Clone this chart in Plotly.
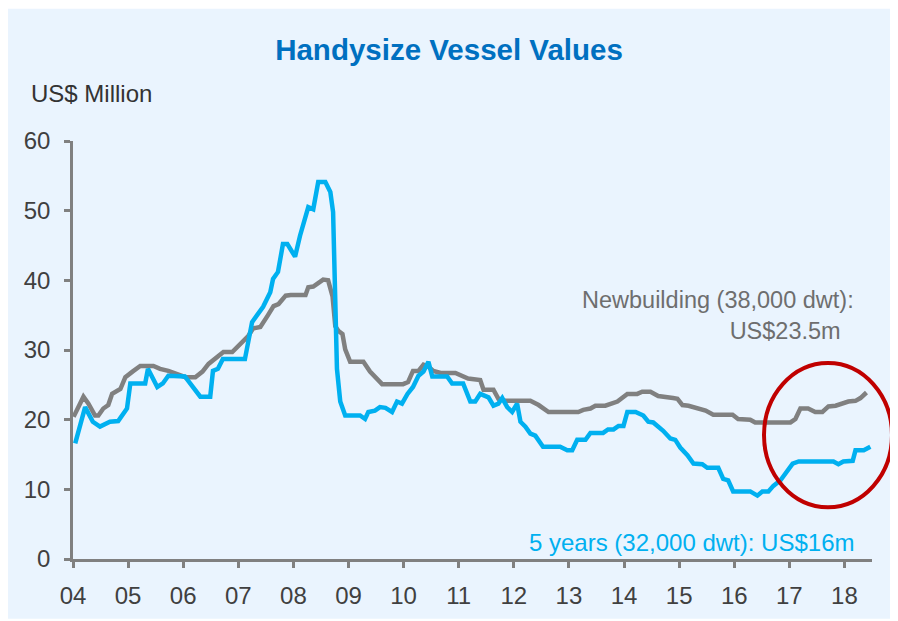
import plotly.graph_objects as go

# ---- data ----
title_text = "Handysize Vessel Values"
y_unit = "US$ Million"

year_ticks = list(range(2004, 2019))
year_labels = ["04", "05", "06", "07", "08", "09", "10", "11", "12", "13", "14", "15", "16", "17", "18"]

five_yr_t = [2004.04, 2004.22, 2004.36, 2004.49, 2004.67, 2004.82, 2004.98, 2005.04, 2005.31, 2005.36,
             2005.53, 2005.63, 2005.73, 2006.03, 2006.31, 2006.49, 2006.54, 2006.63, 2006.72, 2007.12,
             2007.25, 2007.45, 2007.58, 2007.63, 2007.72, 2007.81, 2007.89, 2008.03, 2008.12, 2008.27,
             2008.36, 2008.45, 2008.58, 2008.67, 2008.72, 2008.76, 2008.79, 2008.85, 2008.94, 2009.21,
             2009.30, 2009.36, 2009.48, 2009.57, 2009.67, 2009.79, 2009.88, 2009.97, 2010.07, 2010.17,
             2010.27, 2010.36, 2010.45, 2010.52, 2010.79, 2010.88, 2011.08, 2011.21, 2011.30, 2011.39,
             2011.54, 2011.63, 2011.72, 2011.79, 2011.88, 2011.97, 2012.06, 2012.12, 2012.21, 2012.30,
             2012.39, 2012.53, 2012.84, 2012.97, 2013.06, 2013.15, 2013.30, 2013.39, 2013.62, 2013.71,
             2013.81, 2013.90, 2013.99, 2014.06, 2014.21, 2014.35, 2014.44, 2014.53, 2014.71, 2014.84,
             2014.93, 2015.02, 2015.15, 2015.26, 2015.42, 2015.51, 2015.71, 2015.80, 2015.89, 2015.98,
             2016.29, 2016.42, 2016.51, 2016.62, 2016.71, 2016.84, 2016.93, 2017.06, 2017.17, 2017.80,
             2017.89, 2017.98, 2018.15, 2018.20, 2018.35, 2018.47]
five_yr_v = [16.6, 21.8, 19.7, 19.0, 19.7, 19.8, 21.6, 25.2, 25.2, 27.3,
             24.7, 25.2, 26.3, 26.2, 23.3, 23.3, 27.0, 27.3, 28.7, 28.7,
             34.0, 36.2, 38.3, 40.2, 41.2, 45.2, 45.2, 43.4, 46.4, 50.5,
             50.2, 54.1, 54.1, 52.7, 49.8, 37.0, 27.3, 22.6, 20.6, 20.6,
             20.1, 21.1, 21.3, 21.8, 21.7, 21.1, 22.6, 22.3, 23.7, 24.7,
             26.3, 26.9, 28.3, 26.2, 26.2, 25.2, 25.2, 22.6, 22.6, 23.7,
             23.2, 22.0, 22.3, 23.1, 21.8, 21.1, 22.3, 19.7, 19.0, 18.0,
             17.7, 16.1, 16.1, 15.6, 15.6, 17.1, 17.1, 18.1, 18.1, 18.6,
             18.6, 19.1, 19.1, 21.1, 21.1, 20.6, 19.7, 19.6, 18.4, 17.3,
             17.1, 16.0, 14.9, 13.7, 13.6, 13.1, 13.1, 11.5, 11.3, 9.7,
             9.7, 9.1, 9.7, 9.7, 10.5, 11.3, 12.3, 13.7, 14.0, 14.0,
             13.6, 14.0, 14.1, 15.6, 15.6, 16.1]

newb_t = [2004.01, 2004.19, 2004.28, 2004.40, 2004.46, 2004.55, 2004.64, 2004.71, 2004.86, 2004.95,
          2005.08, 2005.22, 2005.46, 2005.58, 2005.73, 2005.82, 2005.95, 2006.04, 2006.22, 2006.35,
          2006.46, 2006.62, 2006.73, 2006.89, 2007.00, 2007.07, 2007.18, 2007.27, 2007.40, 2007.53,
          2007.64, 2007.73, 2007.86, 2007.95, 2008.22, 2008.27, 2008.36, 2008.45, 2008.54, 2008.63,
          2008.71, 2008.76, 2008.82, 2008.89, 2008.94, 2009.03, 2009.27, 2009.39, 2009.49, 2009.61,
          2009.99, 2010.08, 2010.17, 2010.27, 2010.36, 2010.45, 2010.54, 2010.67, 2010.94, 2011.07,
          2011.17, 2011.39, 2011.45, 2011.63, 2011.72, 2011.85, 2012.30, 2012.45, 2012.63, 2013.17,
          2013.26, 2013.39, 2013.48, 2013.66, 2013.79, 2013.88, 2014.06, 2014.24, 2014.33, 2014.48,
          2014.62, 2014.79, 2014.89, 2014.97, 2015.06, 2015.17, 2015.39, 2015.48, 2015.62, 2015.97,
          2016.07, 2016.29, 2016.38, 2017.02, 2017.11, 2017.20, 2017.34, 2017.47, 2017.60, 2017.71,
          2017.84, 2017.98, 2018.07, 2018.20, 2018.29, 2018.40]
newb_v = [20.4, 23.3, 22.3, 20.6, 20.6, 21.6, 22.1, 23.7, 24.4, 26.1,
          26.9, 27.7, 27.7, 27.3, 27.0, 26.7, 26.3, 26.1, 26.1, 26.9,
          28.0, 29.0, 29.7, 29.7, 30.6, 31.1, 32.0, 33.1, 33.3, 34.9,
          36.3, 36.6, 37.8, 37.9, 37.9, 39.0, 39.1, 39.6, 40.1, 40.0,
          37.7, 33.4, 32.7, 32.3, 30.1, 28.3, 28.3, 26.9, 26.0, 25.1,
          25.1, 25.4, 27.0, 27.0, 27.9, 27.6, 27.0, 26.7, 26.7, 26.3,
          25.9, 25.7, 24.3, 24.3, 23.0, 22.7, 22.7, 22.1, 21.1, 21.1,
          21.4, 21.6, 22.0, 22.0, 22.3, 22.6, 23.7, 23.7, 24.0, 24.0,
          23.4, 23.3, 23.1, 23.0, 22.1, 22.0, 21.5, 21.3, 20.7, 20.7,
          20.1, 20.0, 19.6, 19.6, 20.1, 21.6, 21.6, 21.1, 21.1, 21.9,
          22.0, 22.3, 22.6, 22.7, 23.1, 23.9]

newb_label_1 = "Newbuilding (38,000 dwt):"
newb_label_2 = "US$23.5m"
five_yr_label = "5 years (32,000 dwt): US$16m"

# ---- styling ----
BLUE = "#00B0F0"
GRAY = "#808080"
BG = "#EAF4FE"
FONT = "Liberation Sans, Arial, sans-serif"

fig = go.Figure()
fig.add_trace(go.Scatter(x=newb_t, y=newb_v, mode="lines",
                         line=dict(color=GRAY, width=4.5), hoverinfo="skip"))
fig.add_trace(go.Scatter(x=five_yr_t, y=five_yr_v, mode="lines",
                         line=dict(color=BLUE, width=4.5), hoverinfo="skip"))

OFF = 8  # page body margin
W, H = 898 - OFF, 621 - OFF
ml, mr, mt, mb = 73 - OFF, 26, 141 - OFF, 60
pw, ph = W - ml - mr, H - mt - mb

def px_x(p):  # page pixel -> paper x
    return (p - OFF - ml) / pw

def px_y(p):  # page pixel -> paper y
    return (H - mb - (p - OFF)) / ph

fig.update_layout(
    width=W, height=H,
    margin=dict(l=ml, r=mr, t=mt, b=mb, pad=0),
    paper_bgcolor="white",
    plot_bgcolor="rgba(0,0,0,0)",
    showlegend=False,
    font=dict(family=FONT, size=24, color="#404040"),
    title=dict(text="<b>" + title_text + "</b>", x=(449 - OFF) / W, xref="container", xanchor="center",
               y=1 - (50 - OFF) / H, yref="container", yanchor="middle",
               font=dict(family=FONT, size=29.5, color="#0070C0")),
    xaxis=dict(range=[2004, 2018.5], tickmode="array", tickvals=year_ticks, ticktext=year_labels,
               showgrid=False, zeroline=False, showline=True, linecolor=GRAY, linewidth=2.5,
               ticks="outside", ticklen=6, tickwidth=2.5, tickcolor=GRAY,
               tickfont=dict(size=24, color="#404040"), ticklabelstandoff=7, fixedrange=True),
    yaxis=dict(range=[0, 60], tickvals=[0, 10, 20, 30, 40, 50, 60],
               showgrid=False, zeroline=False, showline=True, linecolor=GRAY, linewidth=2.5,
               ticks="outside", ticklen=6, tickwidth=2.5, tickcolor=GRAY,
               tickfont=dict(size=24, color="#404040"), ticklabelstandoff=9, fixedrange=True),
    shapes=[
        dict(type="rect", xref="paper", yref="paper", layer="below",
             x0=px_x(OFF), x1=px_x(895), y0=px_y(621), y1=px_y(OFF),
             fillcolor=BG, line=dict(width=0)),
        dict(type="circle", xref="paper", yref="paper", layer="above",
             x0=px_x(764), x1=px_x(892), y0=px_y(509), y1=px_y(364),
             line=dict(color="#C00000", width=4)),
    ],
    annotations=[
        dict(text=y_unit, xref="paper", yref="paper", x=px_x(29), y=px_y(93),
             xanchor="left", yanchor="middle", showarrow=False,
             font=dict(size=24, color="#333333")),
        dict(text=newb_label_1 + "<br>" + newb_label_2 + "&nbsp;&nbsp;",
             xref="paper", yref="paper", x=px_x(856), y=px_y(316),
             xanchor="right", yanchor="middle", align="right", showarrow=False,
             font=dict(size=23.5, color="#6E6E6E")),
        dict(text=five_yr_label, xref="paper", yref="paper", x=px_x(857), y=px_y(544),
             xanchor="right", yanchor="middle", showarrow=False,
             font=dict(size=24, color=BLUE)),
    ],
)

fig.write_html("out.html", config={"displayModeBar": False})
